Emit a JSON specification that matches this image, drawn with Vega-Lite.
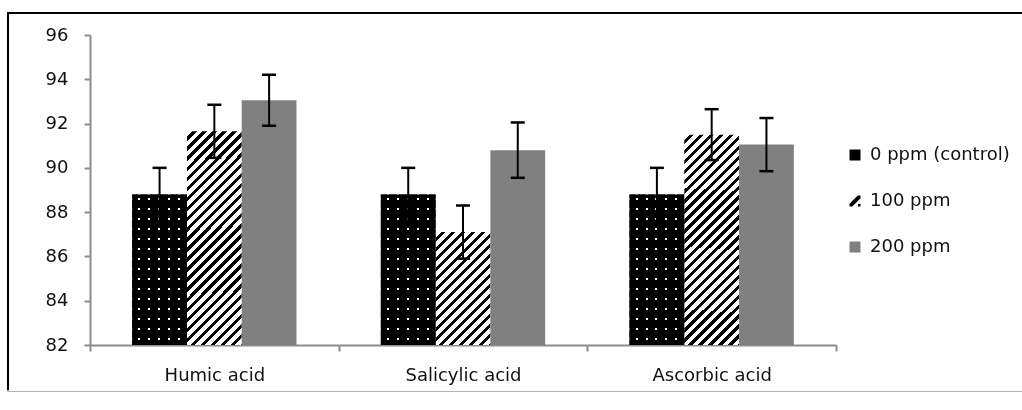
{
 "$schema": "https://vega.github.io/schema/vega-lite/v6.json",
 "width": 1016,
 "height": 379,
 "autosize": {"type": "none"},
 "padding": {"left": 8, "top": 13, "right": 0, "bottom": 0},
 "background": "white",
 "config": {
  "view": {"stroke": {"gradient":"linear","x1":0,"y1":0,"x2":0,"y2":1,"stops":[{"offset":0,"color":"#000"},{"offset":0.995,"color":"#000"},{"offset":0.995,"color":"#b4b4b4"},{"offset":1,"color":"#b4b4b4"}]}, "strokeWidth": 2},
  "font": "DejaVu Sans",
  "axisY": {"orient":"left","offset":-82,"tickCount":7,"grid":false,"domainColor":"#8c8c8c","domainWidth":2,"tickColor":"#8c8c8c","tickWidth":2,"tickSize":6,"labelPadding":16,"labelFont":"DejaVu Sans","labelFontSize":18,"labelColor":"#111"}
 },
 "data": {"values": [
  {"acid":"Humic acid","dose":"0 ppm (control)","value":88.8,"lo":87.6,"hi":90.0},
  {"acid":"Humic acid","dose":"100 ppm","value":91.65,"lo":90.45,"hi":92.85},
  {"acid":"Humic acid","dose":"200 ppm","value":93.05,"lo":91.9,"hi":94.2},
  {"acid":"Salicylic acid","dose":"0 ppm (control)","value":88.8,"lo":87.6,"hi":90.0},
  {"acid":"Salicylic acid","dose":"100 ppm","value":87.1,"lo":85.9,"hi":88.3},
  {"acid":"Salicylic acid","dose":"200 ppm","value":90.8,"lo":89.55,"hi":92.05},
  {"acid":"Ascorbic acid","dose":"0 ppm (control)","value":88.8,"lo":87.6,"hi":90.0},
  {"acid":"Ascorbic acid","dose":"100 ppm","value":91.5,"lo":90.35,"hi":92.65},
  {"acid":"Ascorbic acid","dose":"200 ppm","value":91.05,"lo":89.85,"hi":92.25}
 ]},
 "encoding": {
  "x": {"field":"acid","type":"nominal","sort":["Humic acid","Salicylic acid","Ascorbic acid"],
   "scale":{"range":[82,828],"paddingInner":0,"paddingOuter":0},
   "axis":{"title":null,"orient":"bottom","offset":-47,"labelAngle":0,"domainColor":"#8c8c8c","domainWidth":2,"tickColor":"#8c8c8c","tickWidth":2,"tickSize":6,"tickBand":"extent","labelPadding":15,"labelFont":"DejaVu Sans","labelFontSize":18,"labelColor":"#111"}},
  "xOffset": {"field":"dose","type":"nominal","sort":["0 ppm (control)","100 ppm","200 ppm"],"scale":{"paddingInner":0,"paddingOuter":0.77}},
  "y": {"field":"value","type":"quantitative","title":null,"scale":{"domain":[82,96],"range":[332,22],"nice":false,"zero":false}}
 },
 "layer": [
  {"mark":{"type":"bar","stroke":null},
   "encoding":{"y2":{"datum":82},"fill":{
    "condition":[
     {"test":"datum.acid === 'Salicylic acid' && datum.dose === '100 ppm'","value":{"gradient":"linear","x1":0,"y1":0,"x2":0.695,"y2":1.434,"stops":[
     {"offset":0,"color":"#fff"},{"offset":0.0275,"color":"#fff"},{"offset":0.0275,"color":"#000"},{"offset":0.05,"color":"#000"},
     {"offset":0.05,"color":"#fff"},{"offset":0.0775,"color":"#fff"},{"offset":0.0775,"color":"#000"},{"offset":0.1,"color":"#000"},
     {"offset":0.1,"color":"#fff"},{"offset":0.1275,"color":"#fff"},{"offset":0.1275,"color":"#000"},{"offset":0.15,"color":"#000"},
     {"offset":0.15,"color":"#fff"},{"offset":0.1775,"color":"#fff"},{"offset":0.1775,"color":"#000"},{"offset":0.2,"color":"#000"},
     {"offset":0.2,"color":"#fff"},{"offset":0.2275,"color":"#fff"},{"offset":0.2275,"color":"#000"},{"offset":0.25,"color":"#000"},
     {"offset":0.25,"color":"#fff"},{"offset":0.2775,"color":"#fff"},{"offset":0.2775,"color":"#000"},{"offset":0.3,"color":"#000"},
     {"offset":0.3,"color":"#fff"},{"offset":0.3275,"color":"#fff"},{"offset":0.3275,"color":"#000"},{"offset":0.35,"color":"#000"},
     {"offset":0.35,"color":"#fff"},{"offset":0.3775,"color":"#fff"},{"offset":0.3775,"color":"#000"},{"offset":0.4,"color":"#000"},
     {"offset":0.4,"color":"#fff"},{"offset":0.4275,"color":"#fff"},{"offset":0.4275,"color":"#000"},{"offset":0.45,"color":"#000"},
     {"offset":0.45,"color":"#fff"},{"offset":0.4775,"color":"#fff"},{"offset":0.4775,"color":"#000"},{"offset":0.5,"color":"#000"},
     {"offset":0.5,"color":"#fff"},{"offset":0.5275,"color":"#fff"},{"offset":0.5275,"color":"#000"},{"offset":0.55,"color":"#000"},
     {"offset":0.55,"color":"#fff"},{"offset":0.5775,"color":"#fff"},{"offset":0.5775,"color":"#000"},{"offset":0.6,"color":"#000"},
     {"offset":0.6,"color":"#fff"},{"offset":0.6275,"color":"#fff"},{"offset":0.6275,"color":"#000"},{"offset":0.65,"color":"#000"},
     {"offset":0.65,"color":"#fff"},{"offset":0.6775,"color":"#fff"},{"offset":0.6775,"color":"#000"},{"offset":0.7,"color":"#000"},
     {"offset":0.7,"color":"#fff"},{"offset":0.7275,"color":"#fff"},{"offset":0.7275,"color":"#000"},{"offset":0.75,"color":"#000"},
     {"offset":0.75,"color":"#fff"},{"offset":0.7775,"color":"#fff"},{"offset":0.7775,"color":"#000"},{"offset":0.8,"color":"#000"},
     {"offset":0.8,"color":"#fff"},{"offset":0.8275,"color":"#fff"},{"offset":0.8275,"color":"#000"},{"offset":0.85,"color":"#000"},
     {"offset":0.85,"color":"#fff"},{"offset":0.8775,"color":"#fff"},{"offset":0.8775,"color":"#000"},{"offset":0.9,"color":"#000"},
     {"offset":0.9,"color":"#fff"},{"offset":1,"color":"#fff"}]}},
     {"test":"datum.dose === '100 ppm'","value":{"gradient":"linear","x1":0,"y1":0,"x2":0.326,"y2":1.263,"stops":[
      {"offset":0,"color":"#fff"},{"offset":0.0193,"color":"#fff"},{"offset":0.0193,"color":"#000"},{"offset":0.035,"color":"#000"},
      {"offset":0.035,"color":"#fff"},{"offset":0.0543,"color":"#fff"},{"offset":0.0543,"color":"#000"},{"offset":0.07,"color":"#000"},
      {"offset":0.07,"color":"#fff"},{"offset":0.0893,"color":"#fff"},{"offset":0.0893,"color":"#000"},{"offset":0.105,"color":"#000"},
      {"offset":0.105,"color":"#fff"},{"offset":0.1243,"color":"#fff"},{"offset":0.1243,"color":"#000"},{"offset":0.14,"color":"#000"},
      {"offset":0.14,"color":"#fff"},{"offset":0.1593,"color":"#fff"},{"offset":0.1593,"color":"#000"},{"offset":0.175,"color":"#000"},
      {"offset":0.175,"color":"#fff"},{"offset":0.1943,"color":"#fff"},{"offset":0.1943,"color":"#000"},{"offset":0.21,"color":"#000"},
      {"offset":0.21,"color":"#fff"},{"offset":0.2293,"color":"#fff"},{"offset":0.2293,"color":"#000"},{"offset":0.245,"color":"#000"},
      {"offset":0.245,"color":"#fff"},{"offset":0.2643,"color":"#fff"},{"offset":0.2643,"color":"#000"},{"offset":0.28,"color":"#000"},
      {"offset":0.28,"color":"#fff"},{"offset":0.2993,"color":"#fff"},{"offset":0.2993,"color":"#000"},{"offset":0.315,"color":"#000"},
      {"offset":0.315,"color":"#fff"},{"offset":0.3343,"color":"#fff"},{"offset":0.3343,"color":"#000"},{"offset":0.35,"color":"#000"},
      {"offset":0.35,"color":"#fff"},{"offset":0.3693,"color":"#fff"},{"offset":0.3693,"color":"#000"},{"offset":0.385,"color":"#000"},
      {"offset":0.385,"color":"#fff"},{"offset":0.4043,"color":"#fff"},{"offset":0.4043,"color":"#000"},{"offset":0.42,"color":"#000"},
      {"offset":0.42,"color":"#fff"},{"offset":0.4393,"color":"#fff"},{"offset":0.4393,"color":"#000"},{"offset":0.455,"color":"#000"},
      {"offset":0.455,"color":"#fff"},{"offset":0.4743,"color":"#fff"},{"offset":0.4743,"color":"#000"},{"offset":0.49,"color":"#000"},
      {"offset":0.49,"color":"#fff"},{"offset":0.5093,"color":"#fff"},{"offset":0.5093,"color":"#000"},{"offset":0.525,"color":"#000"},
      {"offset":0.525,"color":"#fff"},{"offset":0.5443,"color":"#fff"},{"offset":0.5443,"color":"#000"},{"offset":0.56,"color":"#000"},
      {"offset":0.56,"color":"#fff"},{"offset":0.5793,"color":"#fff"},{"offset":0.5793,"color":"#000"},{"offset":0.595,"color":"#000"},
      {"offset":0.595,"color":"#fff"},{"offset":0.6143,"color":"#fff"},{"offset":0.6143,"color":"#000"},{"offset":0.63,"color":"#000"},
      {"offset":0.63,"color":"#fff"},{"offset":0.6493,"color":"#fff"},{"offset":0.6493,"color":"#000"},{"offset":0.665,"color":"#000"},
      {"offset":0.665,"color":"#fff"},{"offset":0.6843,"color":"#fff"},{"offset":0.6843,"color":"#000"},{"offset":0.7,"color":"#000"},
      {"offset":0.7,"color":"#fff"},{"offset":0.7193,"color":"#fff"},{"offset":0.7193,"color":"#000"},{"offset":0.735,"color":"#000"},
      {"offset":0.735,"color":"#fff"},{"offset":0.7543,"color":"#fff"},{"offset":0.7543,"color":"#000"},{"offset":0.77,"color":"#000"},
      {"offset":0.77,"color":"#fff"},{"offset":0.7893,"color":"#fff"},{"offset":0.7893,"color":"#000"},{"offset":0.805,"color":"#000"},
      {"offset":0.805,"color":"#fff"},{"offset":0.8243,"color":"#fff"},{"offset":0.8243,"color":"#000"},{"offset":0.84,"color":"#000"},
      {"offset":0.84,"color":"#fff"},{"offset":0.8593,"color":"#fff"},{"offset":0.8593,"color":"#000"},{"offset":0.875,"color":"#000"},
      {"offset":0.875,"color":"#fff"},{"offset":0.8943,"color":"#fff"},{"offset":0.8943,"color":"#000"},{"offset":0.91,"color":"#000"},
      {"offset":0.91,"color":"#fff"},{"offset":0.9293,"color":"#fff"},{"offset":0.9293,"color":"#000"},{"offset":0.945,"color":"#000"},
      {"offset":0.945,"color":"#fff"},{"offset":0.9643,"color":"#fff"},{"offset":0.9643,"color":"#000"},{"offset":0.98,"color":"#000"},
      {"offset":0.98,"color":"#fff"},{"offset":1,"color":"#fff"}]}},
     {"test":"datum.dose === '0 ppm (control)'","value":{"gradient":"linear","x1":0,"y1":0,"x2":0,"y2":1.328,"stops":[
      {"offset":0,"color":"#000"},{"offset":0.02,"color":"#000"},{"offset":0.02,"color":"#fff"},{"offset":0.03,"color":"#fff"},
      {"offset":0.03,"color":"#000"},{"offset":0.07,"color":"#000"},{"offset":0.07,"color":"#fff"},{"offset":0.08,"color":"#fff"},
      {"offset":0.08,"color":"#000"},{"offset":0.12,"color":"#000"},{"offset":0.12,"color":"#fff"},{"offset":0.13,"color":"#fff"},
      {"offset":0.13,"color":"#000"},{"offset":0.17,"color":"#000"},{"offset":0.17,"color":"#fff"},{"offset":0.18,"color":"#fff"},
      {"offset":0.18,"color":"#000"},{"offset":0.22,"color":"#000"},{"offset":0.22,"color":"#fff"},{"offset":0.23,"color":"#fff"},
      {"offset":0.23,"color":"#000"},{"offset":0.27,"color":"#000"},{"offset":0.27,"color":"#fff"},{"offset":0.28,"color":"#fff"},
      {"offset":0.28,"color":"#000"},{"offset":0.32,"color":"#000"},{"offset":0.32,"color":"#fff"},{"offset":0.33,"color":"#fff"},
      {"offset":0.33,"color":"#000"},{"offset":0.37,"color":"#000"},{"offset":0.37,"color":"#fff"},{"offset":0.38,"color":"#fff"},
      {"offset":0.38,"color":"#000"},{"offset":0.42,"color":"#000"},{"offset":0.42,"color":"#fff"},{"offset":0.43,"color":"#fff"},
      {"offset":0.43,"color":"#000"},{"offset":0.47,"color":"#000"},{"offset":0.47,"color":"#fff"},{"offset":0.48,"color":"#fff"},
      {"offset":0.48,"color":"#000"},{"offset":0.52,"color":"#000"},{"offset":0.52,"color":"#fff"},{"offset":0.53,"color":"#fff"},
      {"offset":0.53,"color":"#000"},{"offset":0.57,"color":"#000"},{"offset":0.57,"color":"#fff"},{"offset":0.58,"color":"#fff"},
      {"offset":0.58,"color":"#000"},{"offset":0.62,"color":"#000"},{"offset":0.62,"color":"#fff"},{"offset":0.63,"color":"#fff"},
      {"offset":0.63,"color":"#000"},{"offset":0.67,"color":"#000"},{"offset":0.67,"color":"#fff"},{"offset":0.68,"color":"#fff"},
      {"offset":0.68,"color":"#000"},{"offset":0.72,"color":"#000"},{"offset":0.72,"color":"#fff"},{"offset":0.73,"color":"#fff"},
      {"offset":0.73,"color":"#000"},{"offset":1,"color":"#000"}]}}],
    "field":"dose","type":"nominal","sort":["0 ppm (control)","100 ppm","200 ppm"],
    "scale":{"domain":["0 ppm (control)","100 ppm","200 ppm"],"range":["#000","#000","#808080"]},
    "legend":{"title":null,"orient":"none","legendX":838,"legendY":133,"direction":"vertical","symbolSize":121,"symbolStrokeWidth":0,"symbolOpacity":1,"labelFont":"DejaVu Sans","labelFontSize":18,"labelColor":"#111","labelOffset":6,"rowPadding":28,"padding":0}
   }}},
  {"transform":[{"filter":"datum.dose === '0 ppm (control)'"}],
   "mark":{"type":"bar","blend":"multiply","stroke":null,"fill":{"gradient":"linear","x1":0,"y1":0,"x2":1.825,"y2":0,"stops":[
    {"offset":0,"color":"#000"},{"offset":0.06,"color":"#000"},{"offset":0.06,"color":"#fff"},{"offset":0.08,"color":"#fff"},
    {"offset":0.08,"color":"#000"},{"offset":0.16,"color":"#000"},{"offset":0.16,"color":"#fff"},{"offset":0.18,"color":"#fff"},
    {"offset":0.18,"color":"#000"},{"offset":0.26,"color":"#000"},{"offset":0.26,"color":"#fff"},{"offset":0.28,"color":"#fff"},
    {"offset":0.28,"color":"#000"},{"offset":0.36,"color":"#000"},{"offset":0.36,"color":"#fff"},{"offset":0.38,"color":"#fff"},
    {"offset":0.38,"color":"#000"},{"offset":0.46,"color":"#000"},{"offset":0.46,"color":"#fff"},{"offset":0.48,"color":"#fff"},
    {"offset":0.48,"color":"#000"},{"offset":1,"color":"#000"}]}},
   "encoding":{"y2":{"datum":82}}},
  {"mark":{"type":"point","filled":true,"opacity":0},
   "encoding":{
    "fill":{"field":"dose","type":"nominal","sort":["0 ppm (control)","100 ppm","200 ppm"],
     "legend":{"title":null,"orient":"none","legendX":838,"legendY":133,"direction":"vertical","symbolSize":121,"symbolStrokeWidth":0,"symbolOpacity":1,"labelFont":"DejaVu Sans","labelFontSize":18,"labelColor":"#111","labelOffset":6,"rowPadding":28,"padding":0}},
    "shape":{"field":"dose","type":"nominal","sort":["0 ppm (control)","100 ppm","200 ppm"],
     "scale":{"domain":["0 ppm (control)","100 ppm","200 ppm"],"range":["M-1,-1H1V1H-1Z","M-1,0.5L0.5,-1L1,-1L1,-0.5L-0.5,1L-1,1Z M0.55,0.55H1V1H0.55Z","M-1,-1H1V1H-1Z"]},
     "legend":{"title":null,"orient":"none","legendX":838,"legendY":133,"direction":"vertical","symbolSize":121,"symbolStrokeWidth":0,"symbolOpacity":1,"labelFont":"DejaVu Sans","labelFontSize":18,"labelColor":"#111","labelOffset":6,"rowPadding":28,"padding":0}}}},
  {"mark":{"type":"rule","color":"black","strokeWidth":2},
   "encoding":{"y":{"field":"lo","type":"quantitative","title":null},"y2":{"field":"hi"}}},
  {"mark":{"type":"tick","color":"black","thickness":2.5,"size":14,"opacity":1},
   "encoding":{"y":{"field":"hi","type":"quantitative","title":null}}},
  {"mark":{"type":"tick","color":"black","thickness":2.5,"size":14,"opacity":1},
   "encoding":{"y":{"field":"lo","type":"quantitative","title":null}}}
 ]
}
